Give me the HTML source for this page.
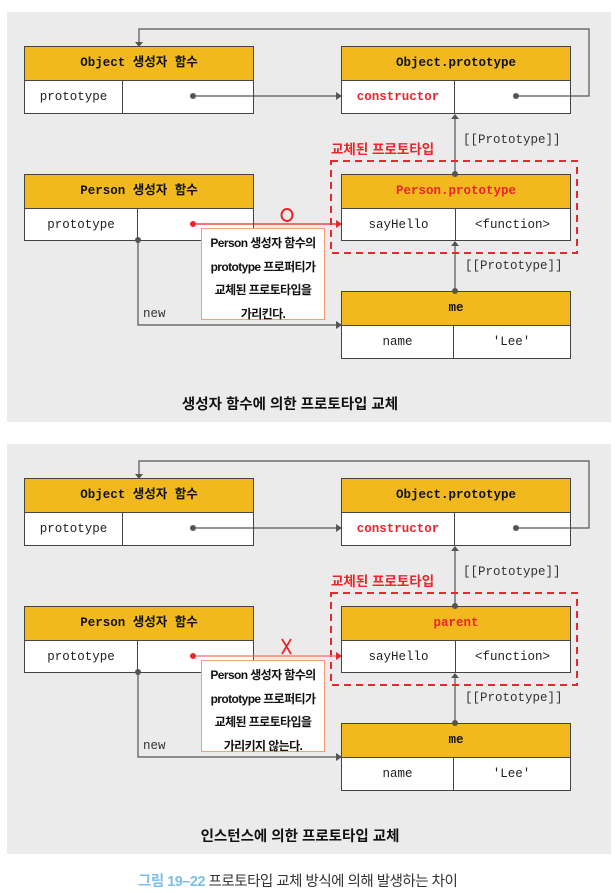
<!DOCTYPE html>
<html><head><meta charset="utf-8">
<style>
*{margin:0;padding:0;box-sizing:border-box}
body{width:615px;height:893px;background:#fff;position:relative;overflow:hidden;font-family:"Liberation Mono","Noto Sans CJK KR",monospace}
.p{position:absolute;left:0;top:0;width:615px;height:440px}
.bg{position:absolute;left:7px;top:12px;width:604px;height:410px;background:#ebebeb}
.box{position:absolute;border:1.5px solid #444;background:#fff}
.hd{position:absolute;left:0;right:0;top:0;background:#f2b91e;border-bottom:1.5px solid #444;font-weight:bold;font-size:12.5px;text-align:center;color:#111}
.c{position:absolute;font-size:12.5px;color:#222;text-align:center}
.dv{position:absolute;top:0;bottom:0;border-left:1.5px solid #444}
.red{color:#e8262b !important}
.lbl{position:absolute;font-size:12.5px;color:#333}
.ko{font-family:"Liberation Sans","Noto Sans CJK KR",sans-serif;font-weight:bold}
.call{position:absolute;left:201px;top:228px;width:124px;height:92px;background:#fff;border:1.5px solid #f0a075;font-family:"Liberation Sans","Noto Sans CJK KR",sans-serif;font-weight:bold;font-size:12px;color:#111;text-align:center;line-height:23.5px;padding-top:3px;letter-spacing:-0.6px;white-space:nowrap}
svg{position:absolute;left:0;top:0}
</style></head><body>

<!-- PANEL 1 -->
<div class="p" style="top:0">
<div class="bg"></div>
<div class="box" style="left:24px;top:46px;width:230px;height:68px"><div class="hd" style="height:34px;line-height:32px">Object 생성자 함수</div><div class="dv" style="left:97px;top:33px"></div><div class="c" style="left:0;width:97px;top:34px;line-height:32px">prototype</div></div>
<div class="box" style="left:341px;top:46px;width:230px;height:68px"><div class="hd" style="height:34px;line-height:32px">Object.prototype</div><div class="dv" style="left:112px;top:33px"></div><div class="c red" style="left:0;width:112px;top:34px;line-height:32px;font-weight:bold">constructor</div></div>
<div class="box" style="left:24px;top:174px;width:230px;height:67px"><div class="hd" style="height:34px;line-height:32px">Person 생성자 함수</div><div class="dv" style="left:112px;top:33px"></div><div class="c" style="left:0;width:112px;top:34px;line-height:32px">prototype</div></div>
<div class="box" style="left:341px;top:174px;width:230px;height:67px"><div class="hd red" style="height:34px;line-height:32px">Person.prototype</div><div class="dv" style="left:113px;top:33px"></div><div class="c" style="left:0;width:113px;top:34px;line-height:32px">sayHello</div><div class="c" style="left:113px;width:115px;top:34px;line-height:32px">&lt;function&gt;</div></div>
<div class="box" style="left:341px;top:291px;width:230px;height:68px"><div class="hd" style="height:34px;line-height:32px">me</div><div class="dv" style="left:111px;top:33px"></div><div class="c" style="left:0;width:111px;top:34px;line-height:32px">name</div><div class="c" style="left:111px;width:117px;top:34px;line-height:32px">'Lee'</div></div>
<div class="lbl" style="left:463px;top:133px">[[Prototype]]</div>
<div class="lbl" style="left:465px;top:259px">[[Prototype]]</div>
<div class="lbl" style="left:143px;top:307px">new</div>
<div class="lbl ko red" style="left:331px;top:138px;font-size:13.5px">교체된 프로토타입</div>
<svg width="615" height="440">
<g stroke="#555" stroke-width="1.2" fill="none">
<polyline points="516,96 589,96 589,29 139,29 139,42"/>
<line x1="193" y1="96" x2="337" y2="96"/>
<line x1="455" y1="174" x2="455" y2="118"/>
<line x1="455" y1="291" x2="455" y2="245"/>
<polyline points="138,240 138,325 337,325"/>
</g>
<g fill="#555">
<polygon points="135,42 143,42 139,47"/>
<polygon points="336,92 342,96 336,100"/>
<polygon points="451,119 459,119 455,114"/>
<polygon points="451,246 459,246 455,241"/>
<polygon points="336,321 342,325 336,329"/>
<circle cx="193" cy="96" r="3"/><circle cx="516" cy="96" r="3"/><circle cx="455" cy="174" r="3"/><circle cx="455" cy="291" r="3"/><circle cx="138" cy="240" r="3"/>
</g>
<rect x="331" y="161" width="246" height="92" fill="none" stroke="#e8262b" stroke-width="2" stroke-dasharray="7,5"/>
<line x1="193" y1="224" x2="337" y2="224" stroke="#e8262b" stroke-width="1.2"/>
<polygon points="336,220 342,224 336,228" fill="#e8262b"/>
<circle cx="193" cy="224" r="3" fill="#e8262b"/>
<ellipse cx="287" cy="215" rx="5.5" ry="6" fill="none" stroke="#e8262b" stroke-width="2"/>
</svg>
<div class="call">Person 생성자 함수의<br>prototype 프로퍼티가<br>교체된 프로토타입을<br>가리킨다.</div>
<div class="lbl ko" style="left:0;width:580px;text-align:center;top:393px;font-size:14.5px;color:#111">생성자 함수에 의한 프로토타입 교체</div>
</div>

<!-- PANEL 2 -->
<div class="p" style="top:432px">
<div class="bg"></div>
<div class="box" style="left:24px;top:46px;width:230px;height:68px"><div class="hd" style="height:34px;line-height:32px">Object 생성자 함수</div><div class="dv" style="left:97px;top:33px"></div><div class="c" style="left:0;width:97px;top:34px;line-height:32px">prototype</div></div>
<div class="box" style="left:341px;top:46px;width:230px;height:68px"><div class="hd" style="height:34px;line-height:32px">Object.prototype</div><div class="dv" style="left:112px;top:33px"></div><div class="c red" style="left:0;width:112px;top:34px;line-height:32px;font-weight:bold">constructor</div></div>
<div class="box" style="left:24px;top:174px;width:230px;height:67px"><div class="hd" style="height:34px;line-height:32px">Person 생성자 함수</div><div class="dv" style="left:112px;top:33px"></div><div class="c" style="left:0;width:112px;top:34px;line-height:32px">prototype</div></div>
<div class="box" style="left:341px;top:174px;width:230px;height:67px"><div class="hd red" style="height:34px;line-height:32px">parent</div><div class="dv" style="left:113px;top:33px"></div><div class="c" style="left:0;width:113px;top:34px;line-height:32px">sayHello</div><div class="c" style="left:113px;width:115px;top:34px;line-height:32px">&lt;function&gt;</div></div>
<div class="box" style="left:341px;top:291px;width:230px;height:68px"><div class="hd" style="height:34px;line-height:32px">me</div><div class="dv" style="left:111px;top:33px"></div><div class="c" style="left:0;width:111px;top:34px;line-height:32px">name</div><div class="c" style="left:111px;width:117px;top:34px;line-height:32px">'Lee'</div></div>
<div class="lbl" style="left:463px;top:133px">[[Prototype]]</div>
<div class="lbl" style="left:465px;top:259px">[[Prototype]]</div>
<div class="lbl" style="left:143px;top:307px">new</div>
<div class="lbl ko red" style="left:331px;top:138px;font-size:13.5px">교체된 프로토타입</div>
<svg width="615" height="440">
<g stroke="#555" stroke-width="1.2" fill="none">
<polyline points="516,96 589,96 589,29 139,29 139,42"/>
<line x1="193" y1="96" x2="337" y2="96"/>
<line x1="455" y1="174" x2="455" y2="118"/>
<line x1="455" y1="291" x2="455" y2="245"/>
<polyline points="138,240 138,325 337,325"/>
</g>
<g fill="#555">
<polygon points="135,42 143,42 139,47"/>
<polygon points="336,92 342,96 336,100"/>
<polygon points="451,119 459,119 455,114"/>
<polygon points="451,246 459,246 455,241"/>
<polygon points="336,321 342,325 336,329"/>
<circle cx="193" cy="96" r="3"/><circle cx="516" cy="96" r="3"/><circle cx="455" cy="174" r="3"/><circle cx="455" cy="291" r="3"/><circle cx="138" cy="240" r="3"/>
</g>
<rect x="331" y="161" width="246" height="92" fill="none" stroke="#e8262b" stroke-width="2" stroke-dasharray="7,5"/>
<line x1="193" y1="224" x2="337" y2="224" stroke="#f07070" stroke-width="1.2"/>
<polygon points="336,220 342,224 336,228" fill="#e8262b"/>
<circle cx="193" cy="224" r="3" fill="#e8262b"/>
<path d="M282,207 L291,222 M291,207 L282,222" stroke="#e8262b" stroke-width="1.8"/>
</svg>
<div class="call">Person 생성자 함수의<br>prototype 프로퍼티가<br>교체된 프로토타입을<br>가리키지 않는다.</div>
<div class="lbl ko" style="left:0;width:600px;text-align:center;top:393px;font-size:14.5px;color:#111">인스턴스에 의한 프로토타입 교체</div>
</div>

<div style="position:absolute;left:138px;top:870px;font-family:'Liberation Sans','Noto Sans CJK KR',sans-serif;font-size:14.5px;color:#333;white-space:nowrap;letter-spacing:-0.5px"><span style="color:#7cc0e6;font-weight:bold">그림 19–22</span> 프로토타입 교체 방식에 의해 발생하는 차이</div>
</body></html>
